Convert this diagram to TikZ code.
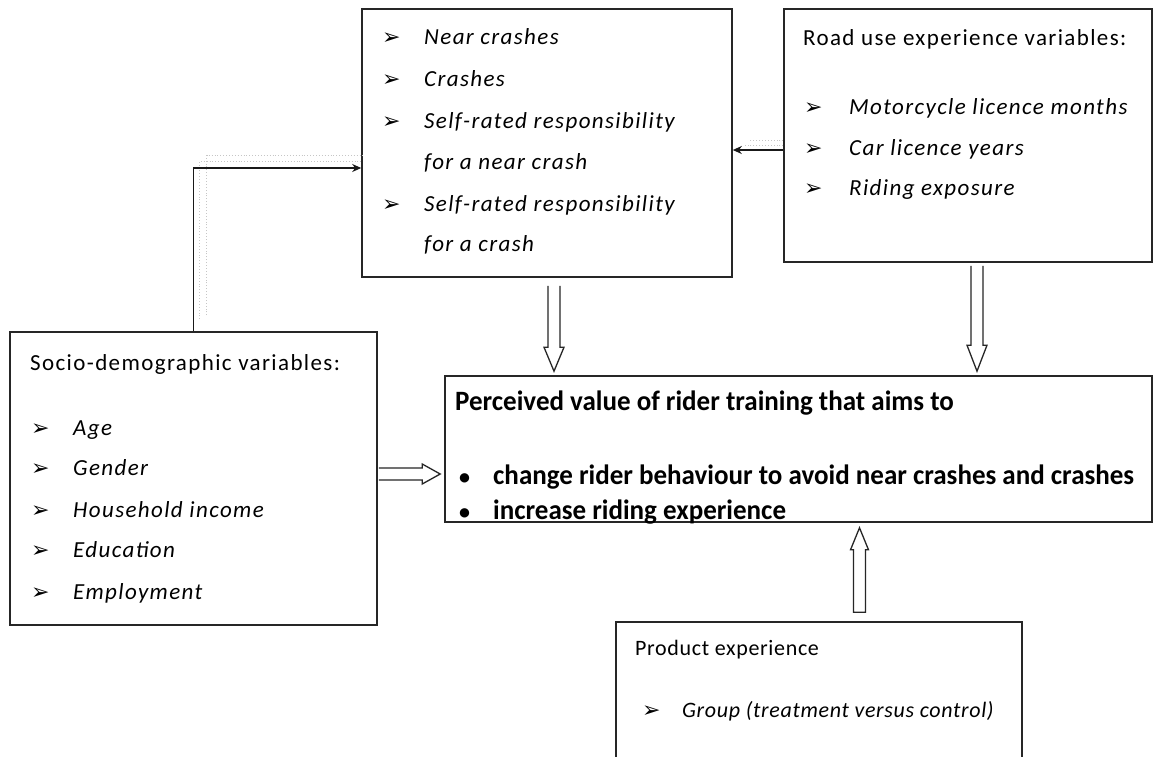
\documentclass[tikz,border=0pt]{standalone}
\usepackage{fontspec}
\setmainfont{Carlito}[LetterSpace=6]
\newfontfamily\prodfont{Carlito}[LetterSpace=3]
\newfontfamily\dingfont{DejaVu Sans}
\newfontfamily\condfont[FakeStretch=0.965]{Carlito}
\usetikzlibrary{calc,arrows.meta}
\tikzset{
  box/.style={draw=black!85, line width=1.6pt, rectangle, inner sep=0pt},
  txt/.style={anchor=base west, inner sep=0pt, font=\fontsize{23}{25}\selectfont},
  itm/.style={anchor=base west, inner sep=0pt, font=\fontsize{23}{25}\selectfont\itshape},
  btxt/.style={anchor=base west, inner sep=0pt, font=\condfont\bfseries\fontsize{28}{30}\selectfont},
  arr/.style={anchor=base west, inner sep=0pt, font=\dingfont\fontsize{22}{22}\selectfont},
  dot/.style={anchor=base west, inner sep=0pt, font=\fontsize{22}{22}\selectfont},
  conn/.style={draw=black!90, line width=1.6pt},
  ghost/.style={draw=gray!45, line width=0.9pt, dotted},
  blk/.style={draw=black!85, line width=1.3pt, fill=white, line join=miter},
}
\begin{document}
\begin{tikzpicture}[x=1pt,y=-1pt]
\useasboundingbox (0,0) rectangle (1160,756);
\fill[white] (0,0) rectangle (1160,756);

% boxes
\node[box, minimum width=370pt, minimum height=268pt] (near) at (547,143) {};
\node[box, minimum width=368pt, minimum height=253pt] (road) at (968,135.5) {};
\node[box, minimum width=367pt, minimum height=293pt] (socio) at (193.5,478.5) {};
\node[box, minimum width=707pt, minimum height=146pt] (perc) at (798.5,449) {};
\node[box, minimum width=406pt, minimum height=148pt] (prod) at (819,696) {};

% near box text
\node[arr] (n1a) at (382,44) {➢};
\node[itm] (n1) at (424,44) {Near crashes};
\node[arr] (n2a) at (382,86) {➢};
\node[itm] (n2) at (424,86) {Crashes};
\node[arr] (n3a) at (382,128) {➢};
\node[itm] (n3) at (424,128) {Self-rated responsibility};
\node[itm] (n4) at (424,169) {for a near crash};
\node[arr] (n5a) at (382,211) {➢};
\node[itm] (n5) at (424,211) {Self-rated responsibility};
\node[itm] (n6) at (424,251) {for a crash};

% road box text
\node[txt] (r0) at (803,45) {Road use experience variables:};
\node[arr] (r1a) at (804,114) {➢};
\node[itm] (r1) at (849,114) {Motorcycle licence months};
\node[arr] (r2a) at (804,155) {➢};
\node[itm] (r2) at (849,155) {Car licence years};
\node[arr] (r3a) at (804,195) {➢};
\node[itm] (r3) at (849,195) {Riding exposure};

% socio box text
\node[txt] (s0) at (30,370) {Socio-demographic variables:};
\node[arr] (s1a) at (31,435) {➢};
\node[itm] (s1) at (73,435) {Age};
\node[arr] (s2a) at (31,475) {➢};
\node[itm] (s2) at (73,475) {Gender};
\node[arr] (s3a) at (31,517) {➢};
\node[itm] (s3) at (73,517) {Household income};
\node[arr] (s4a) at (31,557) {➢};
\node[itm] (s4) at (73,557) {Education};
\node[arr] (s5a) at (31,599) {➢};
\node[itm] (s5) at (73,599) {Employment};

% perceived box text
\node[btxt] (p0) at (455,410) {Perceived value of rider training that aims to};
\node[dot] (p1a) at (459,484) {\textbf{•}};
\node[btxt] (p1) at (493,484) {change rider behaviour to avoid near crashes and crashes};
\node[dot] (p2a) at (459,519) {\textbf{•}};
\node[btxt] (p2) at (493,519) {increase riding experience};

% product box text
\node[txt, font=\prodfont\fontsize{22}{25}\selectfont] (q0) at (635,655) {Product experience};
\node[arr] (q1a) at (642,717) {➢};
\node[itm, font=\prodfont\fontsize{22}{25}\selectfont\itshape] (q1) at (682,717) {Group (treatment versus control)};

% L-shaped connector socio -> near
\coordinate (lc) at (193.5,168);
\draw[ghost] ($(socio.north)+(6,-12)$) |- ($(near.west|-lc)+(0,-7)$);
\draw[ghost] ($(socio.north)+(13,-16)$) |- ($(near.west|-lc)+(4,-13)$);
\draw[conn,-{Stealth[length=9pt,width=8pt]}] (socio.north) |- (near.west|-lc);

% road -> near connector
\coordinate (rc) at (760,150);
\draw[ghost] ($(road.west|-rc)+(0,-5)$) -- ($(near.east|-rc)+(12,-5)$);
\draw[ghost] ($(road.west|-rc)+(0,-10)$) -- ($(near.east|-rc)+(16,-10)$);
\draw[conn,-{Stealth[length=9pt,width=8pt]}] (road.west|-rc) -- (near.east|-rc);

% block arrows
\coordinate (a1s) at ($(near.south)+(7,8)$);
\coordinate (a1e) at ($(perc.north-|a1s)+(0,-4)$);
\draw[blk] ($(a1s)+(-6,0)$) -- ($(a1e)+(-6,-24)$) -- ($(a1e)+(-10,-24)$) -- (a1e)
  -- ($(a1e)+(10,-24)$) -- ($(a1e)+(6,-24)$) -- ($(a1s)+(6,0)$);

\coordinate (a2s) at ($(road.south)+(9,3)$);
\coordinate (a2e) at ($(perc.north-|a2s)+(0,-4)$);
\draw[blk] ($(a2s)+(-6,0)$) -- ($(a2e)+(-6,-26)$) -- ($(a2e)+(-10,-26)$) -- (a2e)
  -- ($(a2e)+(10,-26)$) -- ($(a2e)+(6,-26)$) -- ($(a2s)+(6,0)$);

\coordinate (a3s) at ($(socio.east)+(1,-4.5)$);
\coordinate (a3e) at ($(perc.west|-a3s)+(-4,0)$);
\draw[blk] ($(a3s)+(0,-6)$) -- ($(a3e)+(-18,-6)$) -- ($(a3e)+(-18,-10)$) -- (a3e)
  -- ($(a3e)+(-18,10)$) -- ($(a3e)+(-18,6)$) -- ($(a3s)+(0,6)$);

\coordinate (a4s) at ($(prod.north)+(40.5,-9)$);
\coordinate (a4e) at ($(perc.south-|a4s)+(0,5)$);
\draw[blk] ($(a4s)+(-6,0)$) -- ($(a4e)+(-6,22)$) -- ($(a4e)+(-9,22)$) -- (a4e)
  -- ($(a4e)+(9,22)$) -- ($(a4e)+(6,22)$) -- ($(a4s)+(6,0)$) -- cycle;
\end{tikzpicture}
\end{document}
